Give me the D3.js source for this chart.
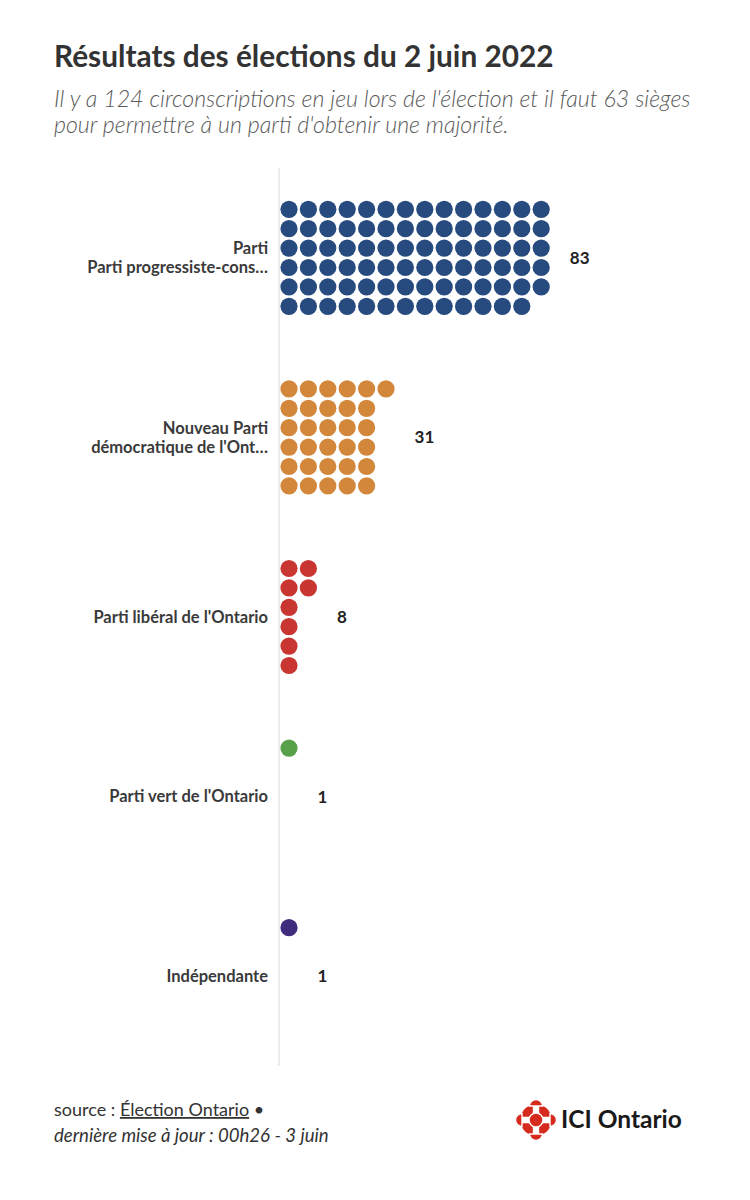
<!DOCTYPE html>
<html>
<head>
<meta charset="utf-8">
<script src="https://cdn.jsdelivr.net/npm/d3@7"></script>
<style>
	body { margin: 0; background: #fff; }
	svg { display: block; font-family: "Source Sans Pro", Lato, "Open Sans", sans-serif; }
</style>
</head>
<body>
<div id="chart"></div>
<script>
/* global d3 */

// data
var parties = ["Parti progressiste-conservateur", "Nouveau Parti démocratique", "Parti libéral de l'Ontario", "Parti vert de l'Ontario", "Indépendante"],
	partyLabels = [["Parti", "Parti progressiste-cons…"], ["Nouveau Parti", "démocratique de l'Ont…"], ["Parti libéral de l'Ontario"], ["Parti vert de l'Ontario"], ["Indépendante"]],
	seats = [83, 31, 8, 1, 1],
	partyColors = ["#274b7f", "#d3873a", "#c93631", "#58a04a", "#3f2c7d"];

var title = "Résultats des élections du 2 juin 2022",
	subtitle = ["Il y a 124 circonscriptions en jeu lors de l'élection et il faut 63 sièges", "pour permettre à un parti d'obtenir une majorité."];

var width = 750,
	height = 1200,
	axisX = 279,
	rowsPerCol = 6,
	step = 19.4,
	radius = 8.6;

var svg = d3.select("#chart").append("svg")
	.attr("width", width)
	.attr("height", height);

// header
svg.append("text")
	.attr("x", 54).attr("y", 67)
	.attr("font-size", 29.8).attr("font-weight", 700)
	.attr("fill", "#333")
	.text(title);

svg.selectAll(".sub").data(subtitle).enter().append("text")
	.attr("class", "sub")
	.attr("x", 54)
	.attr("y", function(d, i) { return 107 + i * 26; })
	.attr("font-size", 23.2).attr("font-style", "italic").attr("font-weight", 300)
	.attr("fill", "#5a5a5a")
	.text(function(d) { return d; });

// scales
var yScale = d3.scaleBand().domain(parties).range([168, 1066]);
var colScale = d3.scaleLinear().domain([0, 1]).range([axisX + 10, axisX + 10 + step]);
var rowScale = d3.scaleLinear().domain([0, 1]).range([-2.5 * step, -1.5 * step]);

function center(p) { return yScale(p) + yScale.bandwidth() / 2; }

// vertical axis line
svg.append("line")
	.attr("x1", axisX).attr("x2", axisX)
	.attr("y1", yScale.range()[0]).attr("y2", yScale.range()[1])
	.attr("stroke", "#e4e4e4").attr("stroke-width", 1.5);

var groups = svg.selectAll(".party").data(parties).enter().append("g")
	.attr("class", "party")
	.attr("transform", function(p) { return "translate(0," + center(p) + ")"; });

// dots, filled column by column
groups.each(function(p, i) {
	var dots = d3.range(seats[i]);
	d3.select(this).selectAll("circle").data(dots).enter().append("circle")
		.attr("cx", function(k) { return colScale(Math.floor(k / rowsPerCol)); })
		.attr("cy", function(k) { return rowScale(k % rowsPerCol); })
		.attr("r", radius)
		.attr("fill", partyColors[i]);
});

// category labels
groups.append("text")
	.attr("x", axisX - 11)
	.attr("text-anchor", "end")
	.attr("font-size", 16.5).attr("font-weight", 700)
	.attr("fill", "#3a3a3a")
	.each(function(p, i) {
		var lines = partyLabels[i];
		d3.select(this).selectAll("tspan").data(lines).enter().append("tspan")
			.attr("x", axisX - 11)
			.attr("y", function(d, j) { return (j - (lines.length - 1) / 2) * 19; })
			.attr("dy", "0.35em")
			.text(function(d) { return d; });
	});

// value labels
groups.append("text")
	.attr("x", function(p, i) { return colScale(Math.ceil(seats[i] / rowsPerCol) - 1) + radius + 20; })
	.attr("dy", "0.35em")
	.attr("font-size", 17).attr("font-weight", 700)
	.attr("fill", "#222")
	.text(function(p, i) { return seats[i]; });

// footer
var src = svg.append("text")
	.attr("x", 54).attr("y", 1116)
	.attr("font-size", 18).attr("fill", "#333");
src.append("tspan").text("source : ");
src.append("tspan").attr("text-decoration", "underline").text("Élection Ontario");
src.append("tspan").text(" •");

svg.append("text")
	.attr("x", 54).attr("y", 1142)
	.attr("font-size", 18.6).attr("font-style", "italic").attr("fill", "#333")
	.text("dernière mise à jour : 00h26 - 3 juin");

// ICI Ontario logo (CBC gem, approximate)
var logo = svg.append("g").attr("transform", "translate(536,1120)")
	.attr("fill", "#d52b1e").attr("stroke", "#fff").attr("stroke-width", 1.4);
[[1, -1], [1, 1], [-1, 1], [-1, -1]].forEach(function(q, i) {
	// corner quarter discs
	logo.append("path")
		.attr("d", d3.arc()({innerRadius: 0, outerRadius: 13, startAngle: i * Math.PI / 2, endAngle: (i + 1) * Math.PI / 2}))
		.attr("transform", "translate(" + (q[0] * 2.5) + "," + (q[1] * 2.5) + ")");
});
[0, 90, 180, 270].forEach(function(a) {
	// side half discs
	logo.append("path")
		.attr("d", d3.arc()({innerRadius: 0, outerRadius: 6.5, startAngle: 0, endAngle: Math.PI}))
		.attr("transform", "rotate(" + a + ") translate(14,0)");
});
logo.append("circle").attr("r", 7);

svg.append("text")
	.attr("x", 561).attr("y", 1128)
	.attr("font-size", 24.5).attr("font-weight", 700)
	.attr("fill", "#1a1a1a")
	.text("ICI Ontario");
</script>
</body>
</html>
